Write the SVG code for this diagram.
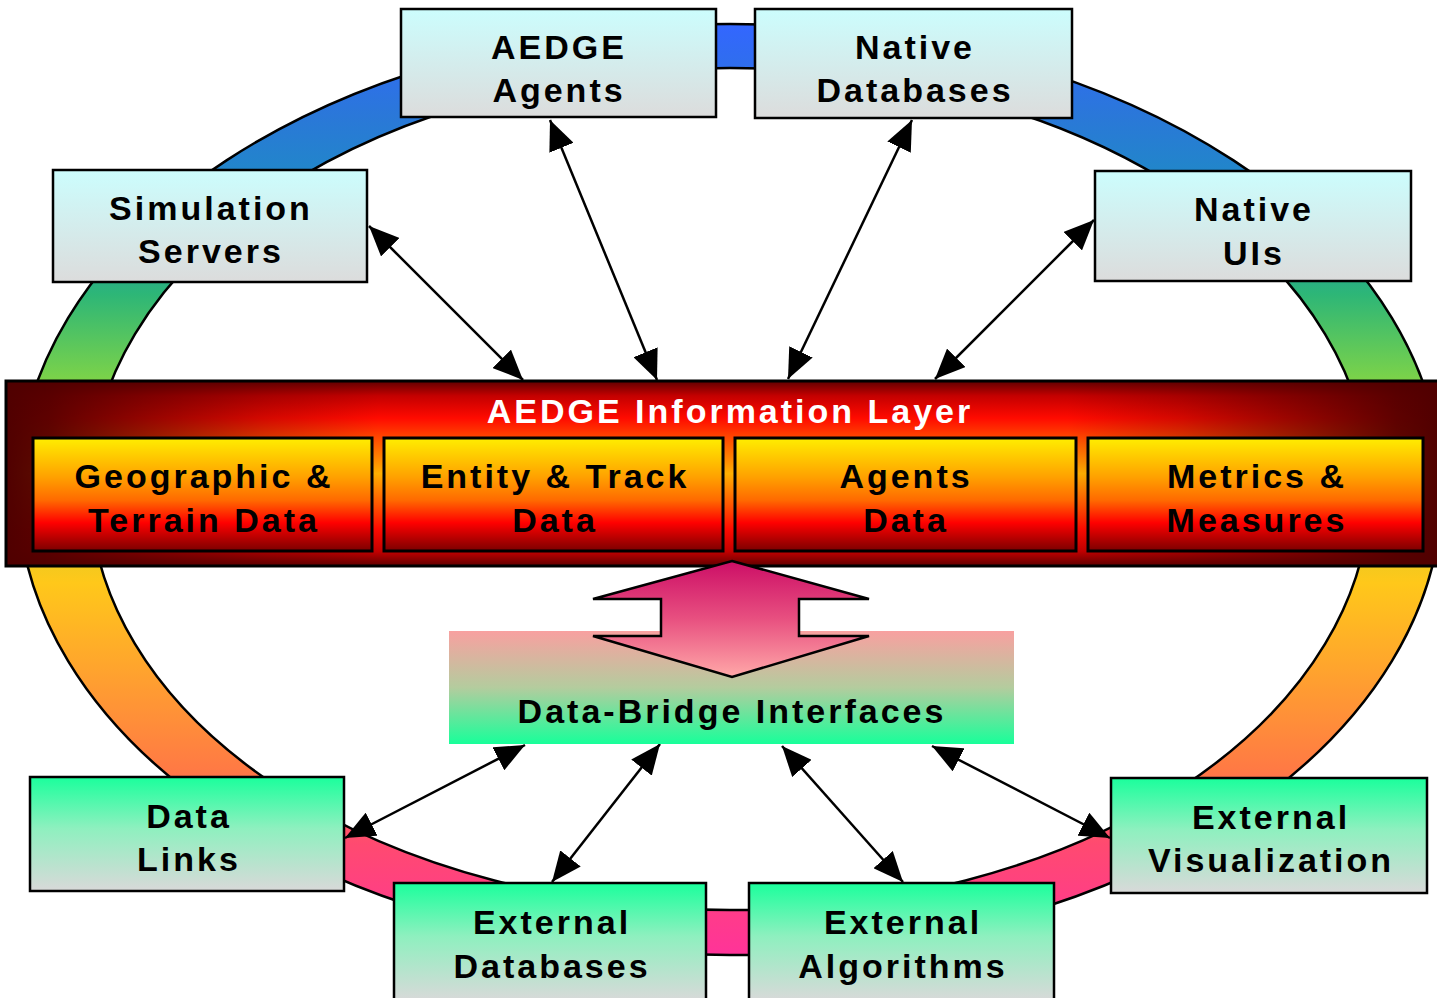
<svg xmlns="http://www.w3.org/2000/svg" width="1437" height="998" viewBox="0 0 1437 998">
<defs>
<linearGradient id="ringG" gradientUnits="userSpaceOnUse" x1="0" y1="24" x2="0" y2="955">
<stop offset="0" stop-color="#3366ff"/>
<stop offset="0.1" stop-color="#2a78d8"/>
<stop offset="0.2" stop-color="#1b90c0"/>
<stop offset="0.29" stop-color="#2db677"/>
<stop offset="0.38" stop-color="#7ad24a"/>
<stop offset="0.6" stop-color="#ffc81a"/>
<stop offset="0.8" stop-color="#ff7a44"/>
<stop offset="0.88" stop-color="#ff4a70"/>
<stop offset="1" stop-color="#ff3399"/>
</linearGradient>
<linearGradient id="topBox" x1="0" y1="0" x2="0" y2="1">
<stop offset="0" stop-color="#ccfdfd"/>
<stop offset="1" stop-color="#dcdcdc"/>
</linearGradient>
<linearGradient id="botBox" x1="0" y1="0" x2="0" y2="1">
<stop offset="0" stop-color="#1aff9c"/>
<stop offset="0.45" stop-color="#8ef0bf"/>
<stop offset="1" stop-color="#d9d9d9"/>
</linearGradient>
<linearGradient id="subBox" x1="0" y1="0" x2="0" y2="1">
<stop offset="0" stop-color="#ffee00"/>
<stop offset="0.35" stop-color="#ffa000"/>
<stop offset="0.55" stop-color="#ff6a00"/>
<stop offset="0.75" stop-color="#ff0000"/>
<stop offset="1" stop-color="#7a0000"/>
</linearGradient>
<linearGradient id="bandV" x1="0" y1="0" x2="0" y2="1">
<stop offset="0" stop-color="#600000"/>
<stop offset="0.08" stop-color="#c40000"/>
<stop offset="0.2" stop-color="#ff0a00"/>
<stop offset="0.33" stop-color="#ff5500"/>
<stop offset="0.5" stop-color="#ffb000"/>
<stop offset="0.67" stop-color="#ff5500"/>
<stop offset="0.8" stop-color="#ff0a00"/>
<stop offset="0.92" stop-color="#c40000"/>
<stop offset="1" stop-color="#600000"/>
</linearGradient>
<linearGradient id="bandH" x1="0" y1="0" x2="1" y2="0">
<stop offset="0" stop-color="#500000" stop-opacity="1"/>
<stop offset="0.03" stop-color="#500000" stop-opacity="0.92"/>
<stop offset="0.1" stop-color="#500000" stop-opacity="0.6"/>
<stop offset="0.18" stop-color="#500000" stop-opacity="0.25"/>
<stop offset="0.26" stop-color="#500000" stop-opacity="0"/>
<stop offset="0.74" stop-color="#500000" stop-opacity="0"/>
<stop offset="0.82" stop-color="#500000" stop-opacity="0.25"/>
<stop offset="0.9" stop-color="#500000" stop-opacity="0.6"/>
<stop offset="0.97" stop-color="#500000" stop-opacity="0.92"/>
<stop offset="1" stop-color="#500000" stop-opacity="1"/>
</linearGradient>
<linearGradient id="dbiG" x1="0" y1="0" x2="0" y2="1">
<stop offset="0" stop-color="#f8a0a0"/>
<stop offset="0.5" stop-color="#b4cc9e"/>
<stop offset="1" stop-color="#18ff9a"/>
</linearGradient>
<linearGradient id="bigArrG" x1="0" y1="0" x2="0" y2="1">
<stop offset="0" stop-color="#cc0e66"/>
<stop offset="0.5" stop-color="#e85080"/>
<stop offset="1" stop-color="#ffa8a8"/>
</linearGradient>
<marker id="ah" markerUnits="userSpaceOnUse" viewBox="0 0 30 26" markerWidth="30" markerHeight="26" refX="30" refY="13" orient="auto-start-reverse">
<path d="M0,0 L30,13 L0,26 z" fill="#000"/>
</marker>
<style>
.box{stroke:#000;stroke-width:2.5}
.tb{fill:url(#topBox)}
.bb{fill:url(#botBox)}
.sb{fill:url(#subBox);stroke:#000;stroke-width:3}
.t{font-family:"Liberation Sans",Arial,sans-serif;font-weight:bold;font-size:34px;letter-spacing:3px;text-anchor:middle;fill:#000}
.w{fill:#fff}
.c{stroke:#000;stroke-width:2.5;fill:none;marker-start:url(#ah);marker-end:url(#ah)}
</style>
</defs>
<rect width="1437" height="998" fill="#fff"/>
<g id="ring">
<path d="M18,489.5 A712,465.5 0 1,0 1442,489.5 A712,465.5 0 1,0 18,489.5 Z M90,489 A640,421 0 1,1 1370,489 A640,421 0 1,1 90,489 Z" fill="url(#ringG)" fill-rule="evenodd" stroke="#000" stroke-width="2.5"/>
</g>
<g id="connectors">
<line class="c" x1="369" y1="226" x2="523" y2="380"/>
<line class="c" x1="550" y1="120" x2="657" y2="380"/>
<line class="c" x1="912" y1="120" x2="788" y2="379"/>
<line class="c" x1="1094" y1="220" x2="935" y2="379"/>
<line class="c" x1="345" y1="838" x2="525" y2="745"/>
<line class="c" x1="552" y1="882" x2="660" y2="744"/>
<line class="c" x1="903" y1="882" x2="782" y2="746"/>
<line class="c" x1="1110" y1="838" x2="932" y2="746"/>
</g>
<g id="aedge-agents">
<rect class="box tb" x="401" y="9" width="315" height="108"/>
<text class="t" x="559" y="59">AEDGE</text>
<text class="t" x="559" y="102">Agents</text>
</g>
<g id="native-databases">
<rect class="box tb" x="755" y="9" width="317" height="109"/>
<text class="t" x="915" y="59">Native</text>
<text class="t" x="915" y="102">Databases</text>
</g>
<g id="simulation-servers">
<rect class="box tb" x="53" y="170" width="314" height="112"/>
<text class="t" x="211" y="220">Simulation</text>
<text class="t" x="211" y="263">Servers</text>
</g>
<g id="native-uis">
<rect class="box tb" x="1095" y="171" width="316" height="110"/>
<text class="t" x="1254" y="221">Native</text>
<text class="t" x="1254" y="265">UIs</text>
</g>
<g id="information-layer">
<rect x="6" y="381" width="1434" height="185" fill="url(#bandV)"/>
<rect x="6" y="381" width="1434" height="185" fill="url(#bandH)" stroke="#000" stroke-width="3"/>
<text class="t w" x="730" y="423">AEDGE Information Layer</text>
</g>
<g id="geographic">
<rect class="sb" x="33" y="438" width="339" height="113"/>
<text class="t" x="204" y="488">Geographic &amp;</text>
<text class="t" x="204" y="532">Terrain Data</text>
</g>
<g id="entity-track">
<rect class="sb" x="384" y="438" width="339" height="113"/>
<text class="t" x="555" y="488">Entity &amp; Track</text>
<text class="t" x="555" y="532">Data</text>
</g>
<g id="agents-data">
<rect class="sb" x="735" y="438" width="341" height="113"/>
<text class="t" x="906" y="488">Agents</text>
<text class="t" x="906" y="532">Data</text>
</g>
<g id="metrics">
<rect class="sb" x="1088" y="438" width="335" height="113"/>
<text class="t" x="1257" y="488">Metrics &amp;</text>
<text class="t" x="1257" y="532">Measures</text>
</g>
<g id="data-bridge">
<rect x="449" y="631" width="565" height="113" fill="url(#dbiG)"/>
<path d="M732,561 L869,599 L799,599 L799,636 L869,636 L732,677 L593,636 L661,636 L661,599 L593,599 Z" fill="url(#bigArrG)" stroke="#000" stroke-width="2.5" stroke-linejoin="miter"/>
<text class="t" x="732" y="723">Data-Bridge Interfaces</text>
</g>
<g id="data-links">
<rect class="box bb" x="30" y="777" width="314" height="114"/>
<text class="t" x="189" y="828">Data</text>
<text class="t" x="189" y="871">Links</text>
</g>
<g id="external-databases">
<rect class="box bb" x="394" y="883" width="312" height="118"/>
<text class="t" x="552" y="934">External</text>
<text class="t" x="552" y="978">Databases</text>
</g>
<g id="external-algorithms">
<rect class="box bb" x="749" y="883" width="305" height="118"/>
<text class="t" x="903" y="934">External</text>
<text class="t" x="903" y="978">Algorithms</text>
</g>
<g id="external-visualization">
<rect class="box bb" x="1111" y="778" width="316" height="115"/>
<text class="t" x="1271" y="829">External</text>
<text class="t" x="1271" y="872">Visualization</text>
</g>
</svg>
